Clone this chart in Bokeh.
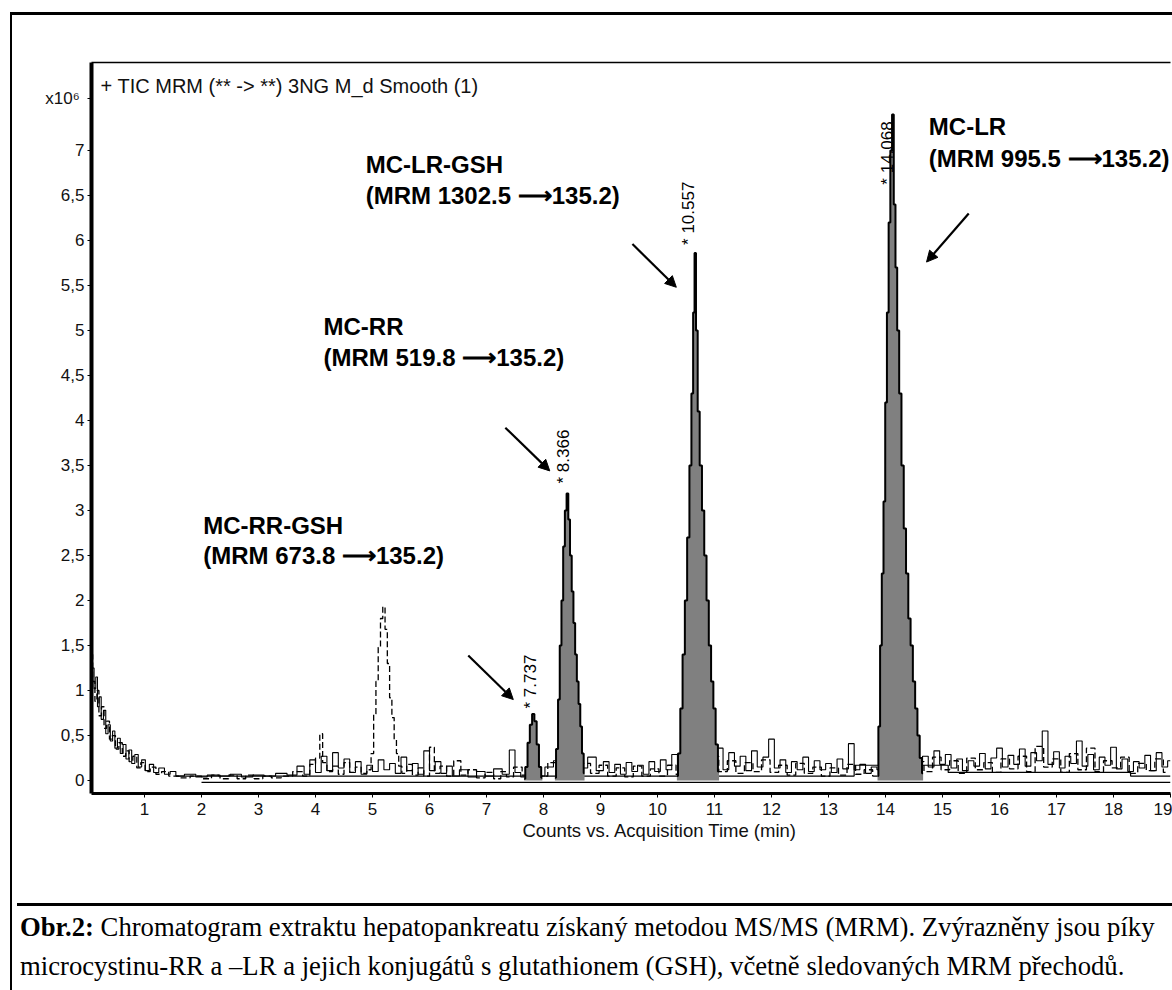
import math
from bokeh.plotting import figure
from bokeh.models import (Label, Arrow, NormalHead, FixedTicker, Range1d, Title,
                          LinearAxis, Div)
from bokeh.layouts import column
from bokeh.embed import file_html
from bokeh.resources import INLINE

# ---------------- data ----------------
x_ticks = [1, 2, 3, 4, 5, 6, 7, 8, 9, 10, 11, 12, 13, 14, 15, 16, 17, 18, 19]
y_ticks = [0, 0.5, 1, 1.5, 2, 2.5, 3, 3.5, 4, 4.5, 5, 5.5, 6, 6.5, 7]
y_tick_labels = ["0", "0,5", "1", "1,5", "2", "2,5", "3", "3,5", "4", "4,5",
                 "5", "5,5", "6", "6,5", "7"]
y_multiplier_at = 7.58          # position of the "x10^6" axis multiplier
y_multiplier = "x10\u2076\u00a0"

# solid noisy trace (time min, counts x10^6)
trace_solid = [
    (0.07, 1.55), (0.10, 1.25), (0.13, 1.02), (0.16, 1.15), (0.19, 0.82), (0.22, 0.93),
    (0.26, 0.68), (0.30, 0.78), (0.34, 0.52), (0.38, 0.62), (0.42, 0.44), (0.46, 0.55),
    (0.50, 0.36), (0.55, 0.47), (0.60, 0.30), (0.65, 0.40), (0.70, 0.24), (0.75, 0.34),
    (0.80, 0.19), (0.86, 0.29), (0.92, 0.15), (0.98, 0.23), (1.05, 0.11), (1.12, 0.18),
    (1.20, 0.09), (1.30, 0.14), (1.40, 0.07), (1.50, 0.10), (1.60, 0.05), (1.80, 0.07),
    (2.00, 0.04), (2.20, 0.06), (2.40, 0.05), (2.60, 0.07), (2.80, 0.04), (3.00, 0.06),
    (3.20, 0.05), (3.40, 0.08), (3.60, 0.06), (3.75, 0.16), (3.85, 0.07), (3.95, 0.23),
    (4.05, 0.09), (4.15, 0.27), (4.25, 0.11), (4.35, 0.31), (4.45, 0.14), (4.55, 0.24),
    (4.65, 0.09), (4.75, 0.21), (4.85, 0.07), (4.95, 0.17), (5.05, 0.10), (5.15, 0.23),
    (5.25, 0.12), (5.35, 0.19), (5.45, 0.08), (5.55, 0.26), (5.65, 0.11), (5.75, 0.19),
    (5.85, 0.07), (5.95, 0.33), (6.05, 0.11), (6.15, 0.21), (6.25, 0.08), (6.35, 0.16),
    (6.45, 0.05), (6.60, 0.12), (6.75, 0.04), (6.90, 0.10), (7.05, 0.05), (7.20, 0.13),
    (7.35, 0.07), (7.45, 0.34), (7.55, 0.09), (7.65, 0.04), (7.80, 0.10), (7.95, 0.05),
    (8.10, 0.15), (8.25, 0.22), (8.40, 0.12), (8.55, 0.24), (8.70, 0.14), (8.85, 0.26),
    (9.00, 0.11), (9.10, 0.21), (9.20, 0.09), (9.30, 0.18), (9.40, 0.07), (9.50, 0.20),
    (9.60, 0.10), (9.70, 0.17), (9.80, 0.07), (9.90, 0.21), (10.0, 0.10), (10.1, 0.23),
    (10.2, 0.12), (10.3, 0.29), (10.4, 0.14), (10.5, 0.22), (10.6, 0.09), (10.7, 0.20),
    (10.8, 0.12), (10.9, 0.30), (11.0, 0.15), (11.1, 0.36), (11.2, 0.12), (11.3, 0.31),
    (11.4, 0.16), (11.5, 0.27), (11.6, 0.11), (11.7, 0.33), (11.8, 0.15), (11.9, 0.26),
    (12.0, 0.46), (12.1, 0.14), (12.2, 0.23), (12.3, 0.09), (12.4, 0.21), (12.5, 0.12),
    (12.6, 0.26), (12.7, 0.10), (12.8, 0.22), (12.9, 0.12), (13.0, 0.19), (13.1, 0.09),
    (13.2, 0.24), (13.3, 0.13), (13.4, 0.41), (13.5, 0.12), (13.6, 0.18), (13.7, 0.08),
    (13.8, 0.15), (13.9, 0.12), (14.0, 0.20), (14.1, 0.10), (14.2, 0.18), (14.3, 0.08),
    (14.4, 0.14), (14.5, 0.06), (14.6, 0.12), (14.7, 0.27), (14.8, 0.15), (14.9, 0.33),
    (15.0, 0.18), (15.1, 0.29), (15.2, 0.14), (15.3, 0.24), (15.4, 0.11), (15.5, 0.22),
    (15.6, 0.16), (15.7, 0.30), (15.8, 0.13), (15.9, 0.25), (16.0, 0.36), (16.1, 0.15),
    (16.2, 0.28), (16.3, 0.18), (16.4, 0.35), (16.5, 0.16), (16.6, 0.31), (16.7, 0.22),
    (16.8, 0.55), (16.9, 0.18), (17.0, 0.32), (17.1, 0.14), (17.2, 0.27), (17.3, 0.19),
    (17.4, 0.44), (17.5, 0.16), (17.6, 0.29), (17.7, 0.12), (17.8, 0.26), (17.9, 0.17),
    (18.0, 0.37), (18.1, 0.13), (18.2, 0.24), (18.3, 0.10), (18.4, 0.21), (18.5, 0.14),
    (18.6, 0.28), (18.7, 0.11), (18.8, 0.31), (18.9, 0.15), (19.0, 0.22),
]

# dashed trace (MC-RR-GSH channel)
trace_dashed = [
    (0.07, 1.40), (0.11, 1.10), (0.15, 0.88), (0.18, 1.00), (0.22, 0.72), (0.27, 0.82),
    (0.31, 0.58), (0.36, 0.66), (0.41, 0.46), (0.46, 0.50), (0.52, 0.35), (0.58, 0.42),
    (0.64, 0.27), (0.70, 0.33), (0.76, 0.21), (0.83, 0.27), (0.90, 0.14), (0.97, 0.20),
    (1.05, 0.10), (1.15, 0.15), (1.25, 0.07), (1.35, 0.10), (1.50, 0.05), (1.70, 0.03),
    (1.90, 0.05), (2.10, 0.02), (2.25, 0.06), (2.40, 0.02), (2.55, 0.06), (2.70, 0.02),
    (2.85, 0.06), (3.00, 0.02), (3.15, 0.05), (3.30, 0.03), (3.50, 0.05), (3.70, 0.10),
    (3.85, 0.05), (3.95, 0.18), (4.05, 0.25), (4.10, 0.52), (4.15, 0.20), (4.25, 0.10),
    (4.35, 0.16), (4.45, 0.07), (4.55, 0.20), (4.65, 0.09), (4.75, 0.15), (4.85, 0.08),
    (4.95, 0.12), (5.00, 0.30), (5.04, 0.74), (5.08, 1.10), (5.12, 1.48), (5.16, 1.80),
    (5.20, 1.93), (5.24, 1.68), (5.28, 1.30), (5.32, 0.92), (5.36, 0.70), (5.40, 0.45),
    (5.44, 0.30), (5.48, 0.16), (5.55, 0.08), (5.65, 0.18), (5.75, 0.06), (5.85, 0.14),
    (5.95, 0.05), (6.05, 0.37), (6.12, 0.08), (6.25, 0.16), (6.35, 0.05), (6.50, 0.22),
    (6.60, 0.06), (6.75, 0.12), (6.90, 0.03), (7.05, 0.09), (7.20, 0.02), (7.30, 0.10),
    (7.40, 0.04), (7.55, 0.15), (7.70, 0.06), (7.85, 0.12), (8.00, 0.05), (8.15, 0.20),
    (8.30, 0.10), (8.45, 0.16), (8.60, 0.06), (8.75, 0.19), (8.90, 0.08), (9.05, 0.17),
    (9.20, 0.05), (9.35, 0.14), (9.50, 0.04), (9.65, 0.16), (9.80, 0.05), (9.95, 0.13),
    (10.10, 0.05), (10.25, 0.17), (10.40, 0.07), (10.55, 0.14), (10.70, 0.05), (10.85, 0.19),
    (11.00, 0.27), (11.15, 0.10), (11.30, 0.22), (11.45, 0.08), (11.60, 0.20), (11.75, 0.10),
    (11.90, 0.23), (12.05, 0.09), (12.20, 0.17), (12.35, 0.06), (12.50, 0.19), (12.65, 0.08),
    (12.80, 0.15), (12.95, 0.05), (13.10, 0.14), (13.25, 0.06), (13.40, 0.18), (13.55, 0.07),
    (13.70, 0.12), (13.85, 0.05), (14.00, 0.15), (14.15, 0.07), (14.30, 0.13), (14.45, 0.05),
    (14.60, 0.21), (14.75, 0.10), (14.90, 0.26), (15.05, 0.12), (15.20, 0.22), (15.35, 0.08),
    (15.50, 0.25), (15.65, 0.12), (15.80, 0.20), (15.95, 0.09), (16.10, 0.24), (16.25, 0.13),
    (16.40, 0.27), (16.55, 0.10), (16.70, 0.38), (16.85, 0.15), (17.00, 0.24), (17.15, 0.09),
    (17.30, 0.30), (17.45, 0.12), (17.60, 0.36), (17.75, 0.10), (17.90, 0.22), (18.05, 0.14),
    (18.20, 0.26), (18.35, 0.08), (18.50, 0.19), (18.65, 0.11), (18.80, 0.24), (18.95, 0.09),
]

# flat baseline channels
baseline_a = [(1.55, 0.05), (13.45, 0.05), (13.45, 0.17), (15.1, 0.17), (15.1, 0.09),
              (18.3, 0.09), (18.3, 0.05), (19.0, 0.05)]
baseline_b = [(2.0, -0.02), (19.0, -0.02)]

# highlighted (filled) peaks
pk1_x = [7.66, 7.70, 7.74, 7.78, 7.82, 7.86, 7.90, 7.94, 7.98]
pk1_y = [0.02, 0.15, 0.42, 0.62, 0.74, 0.66, 0.40, 0.15, 0.03]
pk2_x = [8.20, 8.24, 8.27, 8.30, 8.33, 8.36, 8.39, 8.42, 8.45, 8.48, 8.51, 8.54, 8.57,
         8.60, 8.63, 8.66, 8.69, 8.72]
pk2_y = [0.03, 0.35, 0.90, 1.50, 2.00, 2.60, 3.00, 3.19, 2.90, 2.50, 2.10, 1.75, 1.40,
         1.10, 0.85, 0.60, 0.30, 0.08]
pk3_x = [10.34, 10.38, 10.42, 10.46, 10.50, 10.54, 10.58, 10.61, 10.64, 10.66, 10.69,
         10.72, 10.76, 10.80, 10.84, 10.88, 10.92, 10.96, 11.00, 11.04, 11.08]
pk3_y = [0.05, 0.30, 0.80, 1.40, 2.00, 2.70, 3.50, 4.30, 5.20, 5.86, 5.00, 4.10, 3.50,
         3.00, 2.50, 2.00, 1.50, 1.10, 0.80, 0.40, 0.10]
pk4_x = [13.86, 13.89, 13.92, 13.95, 13.98, 14.01, 14.04, 14.07, 14.10, 14.13, 14.16,
         14.19, 14.22, 14.26, 14.30, 14.34, 14.38, 14.42, 14.46, 14.50, 14.54, 14.58,
         14.62, 14.66]
pk4_y = [0.05, 0.60, 1.50, 2.30, 3.10, 4.20, 5.20, 6.20, 7.00, 7.40, 6.40, 5.70, 5.00,
         4.30, 3.50, 2.80, 2.30, 1.80, 1.50, 1.10, 0.80, 0.50, 0.25, 0.08]

# retention time labels
rt_labels = ["* 7.737", "* 8.366", "* 10.557", "* 14.068"]
rt_x = [7.77, 8.35, 10.54, 14.04]
rt_y = [0.80, 3.30, 5.95, 6.62]

# compound annotations
cmp_names = ["MC-RR-GSH", "MC-RR", "MC-LR-GSH", "MC-LR"]
cmp_mrm = ["(MRM 673.8 \u27f6135.2)", "(MRM 519.8  \u27f6135.2)",
           "(MRM 1302.5 \u27f6135.2)", "(MRM 995.5 \u27f6135.2)"]
cmp_x = [2.03, 4.14, 4.88, 14.76]
cmp_y1 = [2.83, 5.04, 6.84, 7.27]
cmp_y2 = [2.50, 4.70, 6.50, 6.91]

# pointer arrows (start -> end)
arr_x0 = [6.68, 7.33, 9.56, 15.46]
arr_y0 = [1.39, 3.92, 5.96, 6.30]
arr_x1 = [7.47, 8.11, 10.33, 14.72]
arr_y1 = [0.90, 3.44, 5.48, 5.76]

header_text = "+ TIC MRM (** -> **) 3NG M_d Smooth (1)"
x_title = "Counts vs. Acquisition Time (min)"
caption_bold = "Obr.2:"
caption_l1 = "Chromatogram extraktu hepatopankreatu z\u00edskan\u00fd metodou MS/MS (MRM). Zv\u00fdrazn\u011bny jsou p\u00edky"
caption_l2 = "microcystinu-RR a \u2013LR a jejich konjug\u00e1t\u016f s glutathionem (GSH), v\u010detn\u011b sledovan\u00fdch MRM p\u0159echod\u016f."

# ---------------- chart figure ----------------
W, H = 1160, 883
LEFT, RIGHT, TOP, BOTTOM = 79, 2, 47, 105
X0, X1 = 0.07, 19.0
Y0, Y1 = -0.144, 7.977
FONT = "Liberation Sans"

p = figure(width=W, height=H, output_backend="svg", toolbar_location=None,
           x_range=Range1d(X0, X1), y_range=Range1d(Y0, Y1),
           min_border_left=LEFT, min_border_right=RIGHT,
           min_border_top=TOP, min_border_bottom=BOTTOM)
p.background_fill_color = "white"
p.border_fill_color = "white"
p.outline_line_color = None
p.grid.visible = False

p.xaxis.ticker = FixedTicker(ticks=x_ticks)
p.xaxis.major_tick_out = 4
p.xaxis.major_tick_in = 0
p.xaxis.minor_tick_line_color = None
p.xaxis.axis_line_width = 3
p.xaxis.major_label_standoff = 5
p.xaxis.major_label_text_font = FONT
p.xaxis.major_label_text_font_size = "17px"
p.xaxis.major_label_text_color = "#111111"

p.yaxis.ticker = FixedTicker(ticks=y_ticks + [y_multiplier_at])
labels = {t: l for t, l in zip(y_ticks, y_tick_labels)}
labels[y_multiplier_at] = y_multiplier
p.yaxis.major_label_overrides = labels
p.yaxis.major_tick_out = 4
p.yaxis.major_tick_in = 0
p.yaxis.minor_tick_line_color = None
p.yaxis.axis_line_width = 4
p.yaxis.major_label_standoff = 3
p.yaxis.major_label_text_font = FONT
p.yaxis.major_label_text_font_size = "17px"
p.yaxis.major_label_text_color = "#111111"

top_axis = LinearAxis(ticker=FixedTicker(ticks=[]), axis_line_width=1.5,
                      major_tick_line_color=None, minor_tick_line_color=None,
                      major_label_text_font_size="0px")
p.add_layout(top_axis, "above")

p.add_layout(Title(text=x_title, align="left", offset=431, standoff=0,
                   text_font=FONT, text_font_size="18.5px", text_font_style="normal",
                   text_color="#111111"), "below")


def split(pairs):
    return [a for a, b in pairs], [b for a, b in pairs]


bx, by = split(baseline_a)
p.line(bx, by, color="black", line_width=1.2)
bx, by = split(baseline_b)
p.line(bx, by, color="black", line_width=1.2)

dx, dy = split(trace_dashed)
p.step(dx, dy, mode="center", color="black", line_width=1.3, line_dash="6 3")
sx, sy = split(trace_solid)
p.step(sx, sy, mode="center", color="black", line_width=1.1)

GREY = "#808080"
for px_, py_ in [(pk1_x, pk1_y), (pk2_x, pk2_y), (pk3_x, pk3_y), (pk4_x, pk4_y)]:
    p.varea_step(x=px_, y1=0, y2=py_, step_mode="center", fill_color=GREY)
    p.step(px_, py_, mode="center", color="black", line_width=2)

for t, x, y in zip(rt_labels, rt_x, rt_y):
    p.add_layout(Label(x=x, y=y, text=t, angle=math.pi / 2, text_align="left",
                       text_baseline="middle", text_font=FONT, text_font_size="17px",
                       text_color="black"))

for n, m, x, y1, y2 in zip(cmp_names, cmp_mrm, cmp_x, cmp_y1, cmp_y2):
    for txt, yy in [(n, y1), (m, y2)]:
        p.add_layout(Label(x=x, y=yy, text=txt, text_align="left", text_baseline="middle",
                           text_font=FONT, text_font_size="24px", text_font_style="bold",
                           text_color="black"))

for a, b, c, d in zip(arr_x0, arr_y0, arr_x1, arr_y1):
    p.add_layout(Arrow(x_start=a, y_start=b, x_end=c, y_end=d, line_width=2.2,
                       line_color="black",
                       end=NormalHead(size=11, fill_color="black", line_color="black")))

# header line inside the plot area (x in min, y in counts)
p.add_layout(Label(x=0.23, y=7.72, text=header_text, text_align="left",
                   text_baseline="middle", text_font=FONT, text_font_size="20px",
                   text_color="#111111"))

# ---------------- caption ----------------
cap = Div(text=f"<b>{caption_bold}</b> {caption_l1}<br>{caption_l2}",
          width=1160, height=92,
          styles={"border-top": "3px solid black", "box-sizing": "border-box",
                  "padding": "2px 0 0 3px", "font-family": "'Liberation Serif'",
                  "font-size": "26.7px", "line-height": "39px", "color": "black",
                  "white-space": "nowrap", "overflow": "hidden",
                  "background-color": "white"})

root = column(p, cap, spacing=0,
              styles={"margin-left": "10px", "margin-top": "12px",
                      "border-left": "2px solid black", "border-top": "3px solid black"})

open("out.html", "w").write(file_html(root, INLINE))
